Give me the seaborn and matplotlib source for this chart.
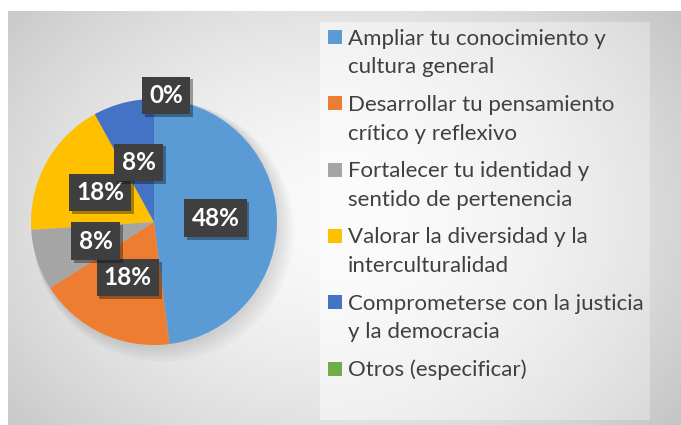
import matplotlib.pyplot as plt
import matplotlib.patheffects as pe
from matplotlib.patches import Rectangle, Circle
import seaborn as sns
import numpy as np

# Chart data
categories = [
    "Ampliar tu conocimiento y\ncultura general",
    "Desarrollar tu pensamiento\ncrítico y reflexivo",
    "Fortalecer tu identidad y\nsentido de pertenencia",
    "Valorar la diversidad y la\ninterculturalidad",
    "Comprometerse con la justicia\ny la democracia",
    "Otros (especificar)",
]
percentages = [48, 18, 8, 18, 8, 0]
colors = ["#5B9BD5", "#ED7D31", "#A5A5A5", "#FFC000", "#4472C4", "#70AD47"]

sns.set_theme(style="white")
plt.rcParams['font.family'] = ['Lato', 'DejaVu Sans']

W, H = 681, 425
fig = plt.figure(figsize=(W / 100, H / 100), dpi=100)

# background: radial grey gradient like the Excel chart area
bg = fig.add_axes([0, 0, 1, 1])
bg.axis('off')
yy, xx = np.mgrid[0:H, 0:W]
r = np.hypot((xx - 330) / 430, (yy - 215) / 330)
shade = 0.98 - 0.20 * np.clip(r, 0, 1.2) ** 1.6
img = np.dstack([shade] * 3)
img[:11, :] = 1.0
img[:, :8] = 1.0
bg.imshow(img, extent=[0, W, H, 0], aspect='auto', interpolation='bilinear')

# legend panel: faint white overlay fading to the right
lx0, lx1, ly0, ly1 = 320, 650, 22, 420
alpha = np.linspace(0.5, 0.3, 200)[None, :].repeat(2, axis=0)
panel = np.ones((2, 200, 4))
panel[..., 3] = alpha
bg.imshow(panel, extent=[lx0, lx1, ly1, ly0], aspect='auto',
          interpolation='bilinear')
bg.set_xlim(0, W)
bg.set_ylim(H, 0)

# pie
cx, cy, R = 154, 222, 123
ax = fig.add_axes([(cx - R) / W, (H - cy - R) / H, 2 * R / W, 2 * R / H])
# soft glow under the pie
for k in range(6):
    ax.add_patch(Circle((0.015 * k, -0.015 * k), 1.0 + 0.012 * k, fc='black',
                        alpha=0.025, ec='none', zorder=0, clip_on=False))
wedges, texts, autotexts = ax.pie(
    percentages, colors=colors, startangle=90, counterclock=False,
    autopct=lambda p: f"{p:.0f}%", pctdistance=0.5,
    wedgeprops=dict(linewidth=0),
    textprops=dict(color='white', fontsize=17.5, fontweight='bold'))
ax.set_xlim(-1, 1)
ax.set_ylim(-1, 1)
ax.set_aspect('equal')

for val, w, t in zip(percentages, wedges, autotexts):
    if val == 0:
        # Excel pushes empty-slice labels out to the rim
        ang = np.deg2rad(w.theta1)
        t.set_position((np.cos(ang) * 1.03 + 0.1, np.sin(ang) * 1.03))
    t.set_bbox(dict(boxstyle='square,pad=0.3', fc='#3F3F3F', ec='none'))
    t.get_bbox_patch().set_path_effects([
        pe.SimplePatchShadow(offset=(2, -2), shadow_rgbFace='black', alpha=0.35),
        pe.Normal()])
    t.set_clip_on(False)

# legend drawn by hand so the marker sits on the first line
x_mark, x_text = 328, 348
y_line = 37
line_pitch, entry_pitch = 28.8, 37.5
for label, c in zip(categories, colors):
    lines = label.split("\n")
    bg.add_patch(Rectangle((x_mark, y_line - 7), 14, 14, fc=c, ec='none'))
    for k, line in enumerate(lines):
        bg.text(x_text, y_line + k * line_pitch + 7.5, line, fontsize=16,
                color='#404040', va='baseline', ha='left')
    y_line += line_pitch * (len(lines) - 1) + entry_pitch

fig.savefig("out.png", dpi=100)
